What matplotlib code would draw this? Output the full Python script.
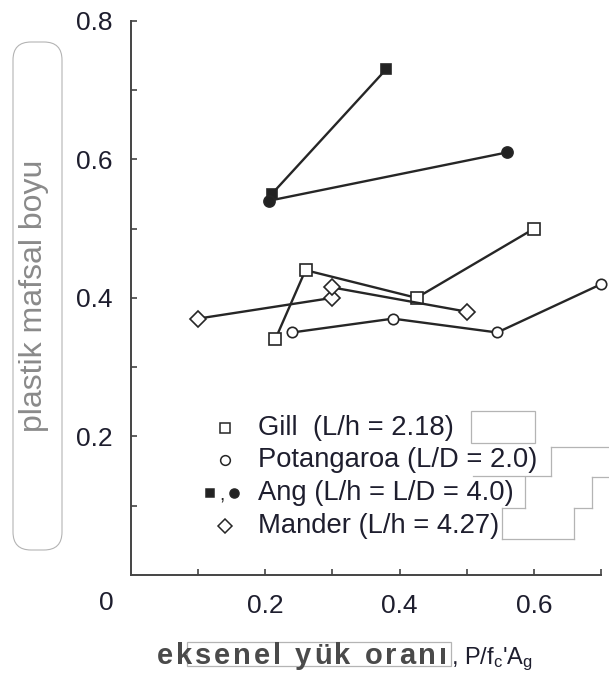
import matplotlib
matplotlib.use('Agg')
import matplotlib.pyplot as plt
from matplotlib.lines import Line2D
from matplotlib.patches import FancyBboxPatch, Rectangle
from matplotlib.transforms import IdentityTransform
from matplotlib.font_manager import FontProperties

plt.rcParams['font.family'] = ['Liberation Sans', 'DejaVu Sans']
plt.rcParams['mathtext.default'] = 'regular'

# ---------------- data ----------------
gill_x = [0.215, 0.26, 0.425, 0.60]
gill_y = [0.34, 0.44, 0.40, 0.50]
pot_x = [0.24, 0.39, 0.545, 0.70]
pot_y = [0.35, 0.37, 0.35, 0.42]
ang_h_x = [0.21, 0.38]
ang_h_y = [0.55, 0.73]
ang_d_x = [0.205, 0.56]
ang_d_y = [0.54, 0.61]
man_x = [0.10, 0.30, 0.30, 0.50]
man_y = [0.37, 0.40, 0.415, 0.38]

legend_labels = ['Gill  (L/h = 2.18)', 'Potangaroa (L/D = 2.0)',
                 'Ang (L/h = L/D = 4.0)', 'Mander (L/h = 4.27)']
x_major = [0.2, 0.4, 0.6]
x_minor = [0.1, 0.3, 0.5, 0.7]
y_major = [0.2, 0.4, 0.6, 0.8]
y_minor = [0.1, 0.3, 0.5, 0.7]
x_label_main = 'eksenel yük oranı'
x_label_tail = r", P/f$_c$'A$_g$"
y_label = 'plastik mafsal boyu'

# ---------------- figure ----------------
W, H = 609, 682
fig = plt.figure(figsize=(W / 100, H / 100), dpi=100)
fig.patch.set_facecolor('white')
renderer = fig.canvas.get_renderer()


def fx(px):
    return px / W


def fy(py):
    return 1 - py / H


def pix(px, py):
    return (px, H - py)


LC = '#262626'
TC = '#1e1e2e'

ax = fig.add_axes([fx(130.6), fy(575.0), (601.5 - 130.6) / W, (575.0 - 20.7) / H])
ax.set_xlim(0, 0.7)
ax.set_ylim(0, 0.8)
for s in ['top', 'right']:
    ax.spines[s].set_visible(False)
for s in ['left', 'bottom']:
    ax.spines[s].set_color('#444444')
    ax.spines[s].set_linewidth(1.4)

ax.set_xticks(x_major)
ax.set_xticklabels([f'{v:.1f}' for v in x_major])
ax.set_xticks(x_minor, minor=True)
ax.set_yticks(y_major)
ax.set_yticklabels([f'{v:.1f}' for v in y_major])
ax.set_yticks(y_minor, minor=True)
ax.tick_params(which='both', direction='in', length=4, width=1.2, color='#444444')
ax.tick_params(axis='x', which='major', labelsize=19, labelcolor=TC, pad=14)
ax.tick_params(axis='y', which='major', labelsize=19, labelcolor=TC, pad=13)
fig.text(fx(106.7), fy(602.7), '0', fontsize=19, color=TC, ha='center', va='center')

common = dict(color=LC, lw=1.7, clip_on=False, zorder=3, mew=1.2, mec=LC)
ax.plot(gill_x, gill_y, marker='s', ms=8.5, mfc='white', **common)
ax.plot(pot_x, pot_y, marker='o', ms=7.5, mfc='white', **common)
ax.plot(man_x, man_y, marker='D', ms=8, mfc='white', **common)
ax.plot(ang_h_x, ang_h_y, marker='s', ms=7.5, mfc='#222222', **common)
ax.plot(ang_d_x, ang_d_y, marker='o', ms=8, mfc='#222222', **common)

# ---------------- legend (manual) ----------------
row_y = [428, 460, 493, 526]
text_x = 258
mk_x = 225
leg_mk = dict(transform=fig.transFigure, ls='none', mec=LC, mew=1.1)
fig.add_artist(Line2D([fx(mk_x)], [fy(row_y[0])], marker='s', ms=7, mfc='white', **leg_mk))
fig.add_artist(Line2D([fx(mk_x)], [fy(row_y[1])], marker='o', ms=7, mfc='white', **leg_mk))
fig.add_artist(Line2D([fx(210)], [fy(row_y[2])], marker='s', ms=6, mfc='#222222', **leg_mk))
fig.text(fx(222), fy(row_y[2]) - 0.004, ',', fontsize=14, color=LC, ha='center', va='center')
fig.add_artist(Line2D([fx(234)], [fy(row_y[2])], marker='o', ms=6.5, mfc='#222222', **leg_mk))
fig.add_artist(Line2D([fx(mk_x)], [fy(row_y[3])], marker='D', ms=7.5, mfc='white', **leg_mk))
for lab, ry in zip(legend_labels, row_y):
    fig.text(fx(text_x), fy(ry), lab, fontsize=19.7, color=TC, ha='left', va='center')

# ---------------- axis labels ----------------
fig.text(fx(34), fy(296), y_label, rotation=90, fontsize=23, color='#8a8a8a',
         ha='center', va='center')

# letter-spaced x label
xl_prop = FontProperties(family=['Liberation Sans', 'DejaVu Sans'], weight='bold', size=21)


def text_w(s):
    if not s.strip():
        return 0.0
    w, _, _ = renderer.get_text_width_height_descent(s, xl_prop, ismath=False)
    return w


x_start, x_end = 157.0, 447.0
base_w = text_w(x_label_main)
n = len(x_label_main)
track = (x_end - x_start - base_w) / (n - 1)
for i, ch in enumerate(x_label_main):
    if ch == ' ':
        continue
    pos = text_w(x_label_main[:i + 1]) - text_w(ch) + i * track
    fig.text(fx(x_start + pos), fy(664), ch, fontproperties=xl_prop, color='#4a4a4a',
             ha='left', va='baseline')
fig.text(fx(451), fy(664), x_label_tail, fontsize=17, color=TC, ha='left', va='baseline')

# ---------------- decorative outlines (from the reference image) ----------------
OC = '#b4b4b4'
fig.add_artist(FancyBboxPatch(pix(13, 550), 49, 508, boxstyle='round,pad=0,rounding_size=18',
                              transform=IdentityTransform(), fill=False, ec=OC, lw=0.8))
fig.add_artist(Rectangle(pix(470.7, 443.3), 64.3, 32.6, transform=IdentityTransform(),
                         fill=False, ec=OC, lw=0.9))
fig.add_artist(Rectangle(pix(187, 666), 264, 24, transform=IdentityTransform(),
                         fill=False, ec=OC, lw=0.9))
segs = [[(550.7, 446.7), (609, 446.7)],
        [(550.7, 446.7), (550.7, 475.5)],
        [(473.3, 475.5), (550.7, 475.5)],
        [(525, 477.3), (525, 508.3)],
        [(501.7, 508.3), (525, 508.3)],
        [(501.7, 508.3), (501.7, 539.3)],
        [(501.7, 539.3), (574, 539.3)],
        [(574, 539.3), (574, 508.3)],
        [(574, 508.3), (592.3, 508.3)],
        [(592.3, 508.3), (592.3, 477.3)],
        [(592.3, 477.3), (609, 477.3)]]
for (x0, y0), (x1, y1) in segs:
    fig.add_artist(Line2D([x0, x1], [H - y0, H - y1], transform=IdentityTransform(),
                          color=OC, lw=0.9))

fig.savefig('out.png', dpi=100, facecolor='white')
